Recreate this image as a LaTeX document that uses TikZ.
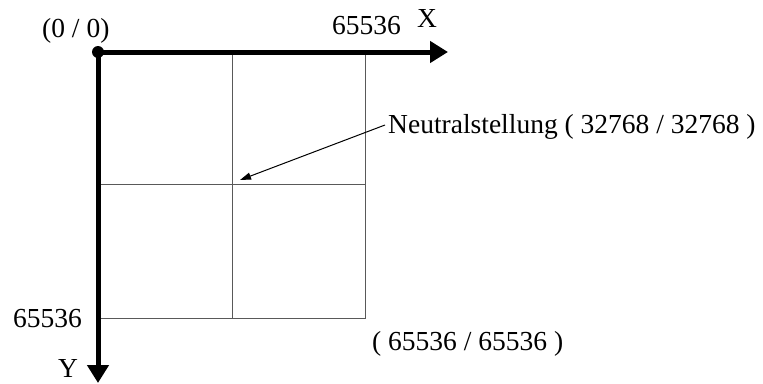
\documentclass[tikz,border=0pt]{standalone}
\usepackage{fontspec}
\setmainfont{Liberation Serif}
\usetikzlibrary{arrows.meta}
\begin{document}
\begin{tikzpicture}[x=1pt,y=-1pt,
  axis/.style={line width=5pt,-{Triangle[length=18pt,width=21pt]}},
  thin/.style={line width=1pt,draw=black!65},
  lbl/.style={inner sep=0pt,font=\fontsize{27.5}{32}\selectfont}]
\useasboundingbox (0,0) rectangle (763,383);
\coordinate (O) at (98,52);
\coordinate (XE) at (448,52);
\coordinate (YE) at (98,383);
\coordinate (TR) at (365,52);
\coordinate (BL) at (98,318);
\coordinate (BR) at (365,318);
\coordinate (TM) at (232,52);
\coordinate (BM) at (232,318);
\coordinate (LM) at (98,184);
\coordinate (RM) at (365,184);
\coordinate (C) at (232,184);
\draw[thin] (TR) -- (BR) -- (BL);
\draw[thin] (TM) -- (BM);
\draw[thin] (LM) -- (RM);
\draw[axis] (O) -- (XE);
\draw[axis] (O) -- (YE);
\fill (O) circle (6pt);
\node[lbl,anchor=base west] (oo) at (42,37) {(0 / 0)};
\node[lbl,anchor=base west] (xm) at (332,34) {65536};
\node[lbl,anchor=base west] (xl) at (417,27) {X};
\node[lbl,anchor=base east] (ym) at (82,327) {65536};
\node[lbl,anchor=base west] (yl) at (58,377) {Y};
\node[lbl,anchor=base west] (br) at (372,350) {( 65536 / 65536 )};
\node[lbl,anchor=base west] (ne) at (388,133) {Neutralstellung ( 32768 / 32768 )};
\coordinate (ns) at (385,125);
\coordinate (nt) at (240,180);
\draw[line width=1pt,-{Triangle[length=11pt,width=7pt]}] (ns) -- (nt);
\end{tikzpicture}
\end{document}
